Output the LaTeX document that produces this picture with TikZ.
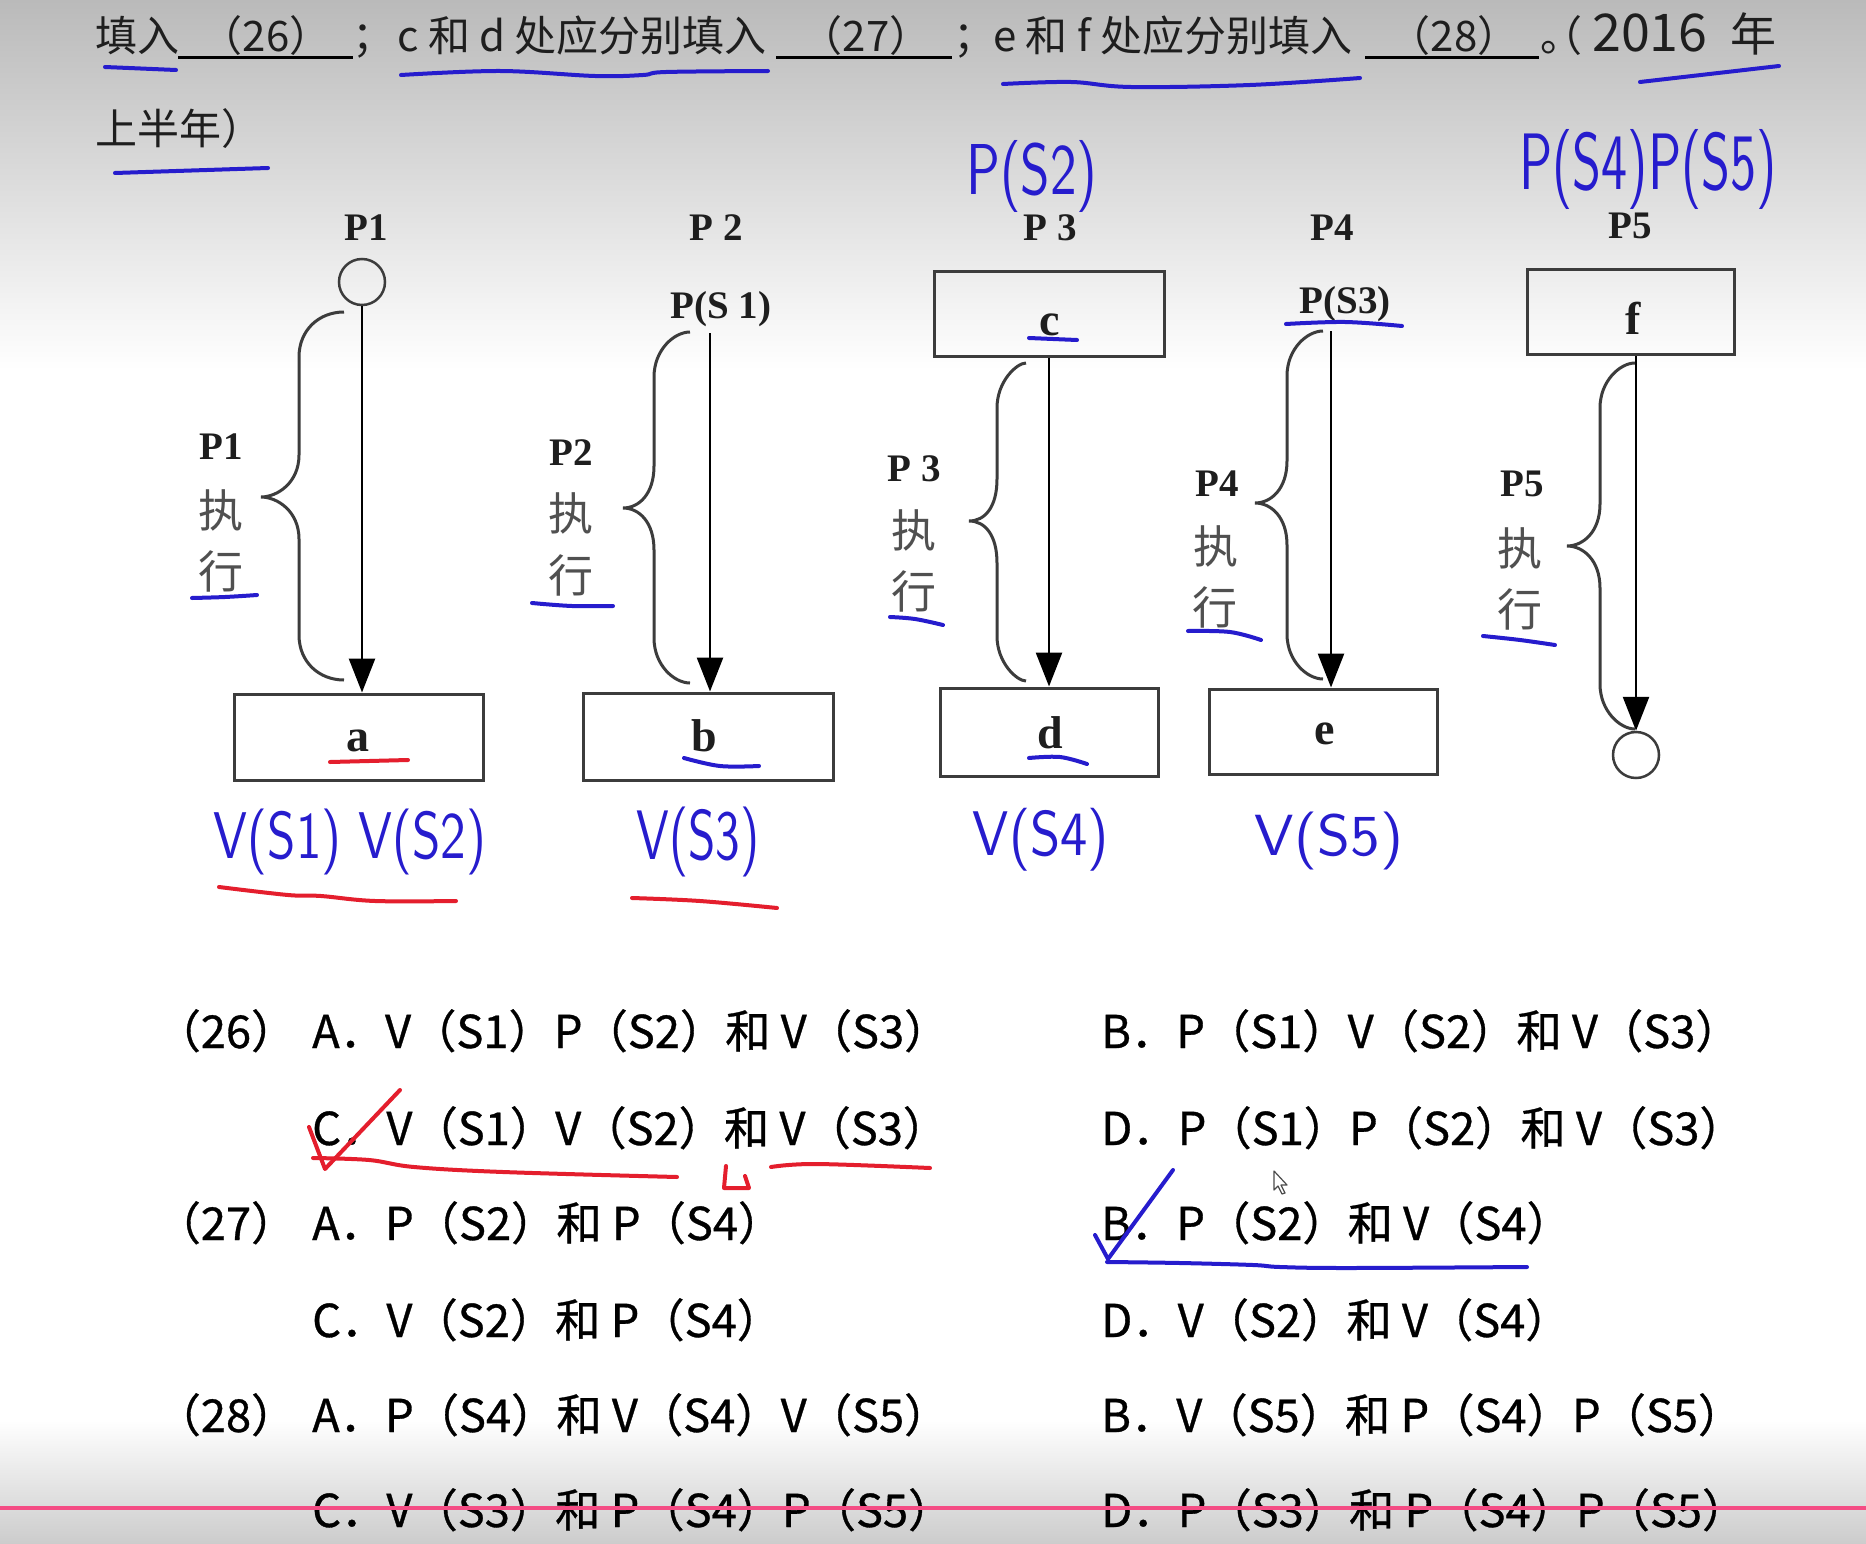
\documentclass[tikz,border=0pt]{standalone}
\usepackage{fontspec}
\usepackage{graphicx}
\setmainfont{Noto Sans CJK SC}
\newfontfamily\serifen{Liberation Serif}
\newfontfamily\optfont[FakeBold=0.7]{Noto Sans CJK SC}
\usetikzlibrary{arrows.meta}

\definecolor{hblue}{RGB}{38,28,205}
\definecolor{hred}{RGB}{228,30,45}
\definecolor{pinkline}{RGB}{244,76,132}
\definecolor{bgtop}{RGB}{186,186,186}
\definecolor{bgbot}{RGB}{204,204,204}
\definecolor{boxline}{RGB}{60,60,60}
\definecolor{lbl}{RGB}{30,30,30}
\definecolor{zhgray}{RGB}{80,80,80}

\tikzset{
  qtext/.style={font=\fontsize{42}{50}\selectfont, text=lbl, inner sep=0pt},
  opt/.style={font=\optfont\fontsize{45.3}{54}\selectfont, text=black, inner sep=0pt, anchor=base west},
  optnum/.style={font=\optfont\fontsize{45.3}{54}\selectfont, text=black, inner sep=0pt, anchor=base},
  plabel/.style={font=\serifen\bfseries\fontsize{39}{44}\selectfont, text=lbl, inner sep=0pt, anchor=base},
  sidelbl/.style={font=\serifen\bfseries\fontsize{39}{44}\selectfont, text=lbl, inner sep=0pt},
  sidezh/.style={font=\fontsize{45}{48}\selectfont, text=zhgray, inner sep=0pt},
  letter/.style={font=\serifen\bfseries\fontsize{46}{50}\selectfont, text=lbl, inner sep=0pt, anchor=base},
  boxnode/.style={draw=boxline, line width=3pt, inner sep=0pt},
  ring/.style={circle, draw=boxline, line width=2.5pt, minimum size=46pt, inner sep=0pt},
  conn/.style={line width=2.6pt, draw=black, -{Triangle[length=34pt,width=26pt]}},
  bracestyle/.style={draw=boxline, line width=3pt},
  hand/.style={line width=4pt, line cap=round, line join=round},
  hw/.style={inner sep=0pt, text=hblue},
  blank/.style={draw=black, line width=3pt}
}

% brace: xend, xvert, xtip, ytop, ytip, ybot
\newcommand\pbrace[6]{%
  \draw[bracestyle] (#1,#4) .. controls ({#2+20},#4) and (#2,{#4+18}) .. (#2,{#4+45})
    -- (#2,{#5-42}) .. controls (#2,{#5-14}) and ({#3+16},#5) .. (#3,#5)
    .. controls ({#3+16},#5) and (#2,{#5+14}) .. (#2,{#5+42})
    -- (#2,{#6-45}) .. controls (#2,{#6-18}) and ({#2+20},#6) .. (#1,#6);}

\begin{document}
\begin{tikzpicture}[x=1pt,y=-1pt]
\useasboundingbox (0,0) rectangle (1866,1544);
% background
\fill[white] (0,0) rectangle (1866,1544);
\shade[top color=bgtop, bottom color=white] (0,0) rectangle (1866,370);
\shade[top color=white, bottom color=bgbot] (0,1420) rectangle (1866,1544);

% ---------- question line ----------
\node[qtext, anchor=base west] (q1) at (95,52) {填入};
\draw[blank] (178,58) -- (353,58);
\node[qtext, anchor=base] (q26) at (266,52) {（26）};
\node[qtext, anchor=base west] (q2) at (352,52) {；};
\node[qtext, anchor=base west] (q3) at (397,52) {c 和 d 处应分别填入};
\draw[blank] (776,58) -- (952,58);
\node[qtext, anchor=base] (q27) at (866,52) {（27）};
\node[qtext, anchor=base west] (q4) at (953,52) {；};
\node[qtext, anchor=base west] (q5) at (993,52) {e 和 f 处应分别填入};
\draw[blank] (1365,58) -- (1539,58);
\node[qtext, anchor=base] (q28) at (1454,52) {（28）};
\node[qtext, anchor=base west] (q6) at (1540,52) {。};
\node[qtext, anchor=base west] (q7) at (1540,52) {（};
\node[qtext, anchor=base west, font=\fontsize{52}{54}\selectfont] (q7b) at (1592,52) {2016};
\node[qtext, anchor=base east, font=\fontsize{46}{50}\selectfont] (q7c) at (1777,52) {年};
\node[qtext, anchor=base west] (q8) at (95,145) {上半年）};

% ---------- P1 ----------
\node[plabel] (t1) at (366,240) {P1};
\node[ring] (c1) at (362,282) {};
\node[boxnode, minimum width=249pt, minimum height=86pt] (a) at (358.5,737) {};
\node[letter] (la) at (358,751) {a};
\draw[conn] (c1.south) -- (c1.south |- a.north);
\pbrace{344}{299}{261}{312}{497}{680}
\node[sidelbl] (s1a) at (221,447) {P1};
\node[sidezh] (s1b) at (221,510) {执};
\node[sidezh] (s1c) at (221,571) {行};

% ---------- P2 ----------
\node[plabel] (t2) at (716,240) {P 2};
\node[plabel] (ps1) at (721,318) {P(S 1)};
\coordinate (p2s) at (710,333);
\node[boxnode, minimum width=250pt, minimum height=87pt] (b) at (708,736.5) {};
\node[letter] (lb) at (704,751) {b};
\draw[conn] (p2s) -- (p2s |- b.north);
\pbrace{690}{654}{623}{332}{508}{683}
\node[sidelbl] (s2a) at (571,453) {P2};
\node[sidezh] (s2b) at (571,513) {执};
\node[sidezh] (s2c) at (571,575) {行};

% ---------- P3 ----------
\node[plabel] (t3) at (1050,240) {P 3};
\node[boxnode, minimum width=230pt, minimum height=85pt] (c) at (1049,313.5) {};
\node[letter] (lc) at (1050,335) {c};
\node[boxnode, minimum width=218pt, minimum height=88pt] (d) at (1049,732) {};
\node[letter] (ld) at (1050,748) {d};
\draw[conn] (c.south) -- (c.south |- d.north);
\pbrace{1026}{997}{969}{363}{521}{681}
\node[sidelbl] (s3a) at (914,469) {P 3};
\node[sidezh] (s3b) at (914,530) {执};
\node[sidezh] (s3c) at (914,591) {行};

% ---------- P4 ----------
\node[plabel] (t4) at (1332,240) {P4};
\node[plabel] (ps3) at (1345,313) {P(S3)};
\coordinate (p4s) at (1331,331);
\node[boxnode, minimum width=228pt, minimum height=85pt] (e) at (1323.5,731.5) {};
\node[letter] (le) at (1325,744) {e};
\draw[conn] (p4s) -- (p4s |- e.north);
\pbrace{1323}{1287}{1255}{331}{503}{679}
\node[sidelbl] (s4a) at (1217,484) {P4};
\node[sidezh] (s4b) at (1216,546) {执};
\node[sidezh] (s4c) at (1215,607) {行};

% ---------- P5 ----------
\node[plabel] (t5) at (1630,238) {P5};
\node[boxnode, minimum width=207pt, minimum height=85pt] (f) at (1630.5,312) {};
\node[letter] (lf) at (1633,334) {f};
\node[ring] (c5) at (1636,755) {};
\draw[conn] (f.south -| c5) -- (c5.north);
\pbrace{1635}{1600}{1567}{363}{546}{729}
\node[sidelbl] (s5a) at (1522,484) {P5};
\node[sidezh] (s5b) at (1520,548) {执};
\node[sidezh] (s5c) at (1520,609) {行};

% ---------- options ----------
\node[optnum] (n26) at (226,1048) {（26）};
\node[opt] (o26a) at (312,1048) {A．V（S1）P（S2）和 V（S3）};
\node[opt] (o26b) at (1101,1048) {B．P（S1）V（S2）和 V（S3）};
\node[opt] (o26c) at (312,1145) {C．V（S1）V（S2）和 V（S3）};
\node[opt] (o26d) at (1101,1145) {D．P（S1）P（S2）和 V（S3）};
\node[optnum] (n27) at (226,1240) {（27）};
\node[opt] (o27a) at (312,1240) {A．P（S2）和 P（S4）};
\node[opt] (o27b) at (1101,1240) {B．P（S2）和 V（S4）};
\node[opt] (o27c) at (312,1337) {C．V（S2）和 P（S4）};
\node[opt] (o27d) at (1101,1337) {D．V（S2）和 V（S4）};
\node[optnum] (n28) at (226,1432) {（28）};
\node[opt] (o28a) at (312,1432) {A．P（S4）和 V（S4）V（S5）};
\node[opt] (o28b) at (1101,1432) {B．V（S5）和 P（S4）P（S5）};
\node[opt] (o28c) at (312,1527) {C．V（S3）和 P（S4）P（S5）};
\node[opt] (o28d) at (1101,1527) {D．P（S3）和 P（S4）P（S5）};

% ---------- handwritten notes ----------
\node[hw] (h1) at (1032,176) {\resizebox*{131pt}{72pt}{\sffamily P(S2)}};
\node[hw] (h2) at (1648,169) {\resizebox*{257pt}{80pt}{\sffamily P(S4)P(S5)}};
\node[hw] (h3) at (350,842) {\resizebox*{272pt}{66pt}{\sffamily V(S1) V(S2)}};
\node[hw] (h4) at (698,842) {\resizebox*{123pt}{70pt}{\sffamily V(S3)}};
\node[hw] (h5) at (1041,840) {\resizebox*{136pt}{63pt}{\sffamily V(S4)}};
\node[hw] (h6) at (1329,841) {\resizebox*{148pt}{58pt}{\sffamily V(S5)}};

% blue underlines
\draw[hand, hblue] (105,67) -- (176,70);
\draw[hand, hblue] plot[smooth, tension=0.6] coordinates {(401,75) (500,71) (595,76) (643,75) (666,72) (768,71)};
\draw[hand, hblue] plot[smooth, tension=0.6] coordinates {(1003,84) (1071,82) (1131,87) (1250,85) (1360,78)};
\draw[hand, hblue] (1640,82) -- (1779,66);
\draw[hand, hblue] (115,173) -- (268,168);
\draw[hand, hblue] plot[smooth, tension=0.6] coordinates {(192,598) (225,597) (257,595)};
\draw[hand, hblue] plot[smooth, tension=0.6] coordinates {(532,603) (572,606) (613,606)};
\draw[hand, hblue] plot[smooth, tension=0.6] coordinates {(890,617) (915,619) (943,625)};
\draw[hand, hblue] plot[smooth, tension=0.6] coordinates {(1188,631) (1230,632) (1261,640)};
\draw[hand, hblue] plot[smooth, tension=0.6] coordinates {(1483,636) (1520,640) (1555,645)};
\draw[hand, hblue] plot[smooth, tension=0.6] coordinates {(684,758) (720,766) (759,766)};
\draw[hand, hblue] (1029,338) -- (1077,340);
\draw[hand, hblue] plot[smooth, tension=0.6] coordinates {(1029,758) (1060,757) (1087,764)};
\draw[hand, hblue] plot[smooth, tension=0.6] coordinates {(1286,324) (1345,322) (1402,326)};
% red underlines
\draw[hand, hred] (330,762) -- (408,760);
\draw[hand, hred] plot[smooth, tension=0.6] coordinates {(219,887) (288,895) (321,896) (375,901) (456,901)};
\draw[hand, hred] plot[smooth, tension=0.6] coordinates {(632,898) (700,901) (777,908)};
% red tick and marks on (26) C
\draw[hand, hred] (309,1127) -- (325,1169) -- (400,1090);
\draw[hand, hred] plot[smooth, tension=0.6] coordinates {(313,1158) (369,1160) (414,1167) (503,1172) (677,1177)};
\draw[hand, hred] (726,1166) -- (724,1188) -- (749,1188) -- (745,1176);
\draw[hand, hred] plot[smooth, tension=0.6] coordinates {(771,1167) (816,1164) (930,1168)};
% blue tick on (27) B
\draw[hand, hblue] (1095,1235) -- (1108,1259) -- (1173,1170);
\draw[hand, hblue] plot[smooth, tension=0.6] coordinates {(1107,1262) (1180,1263) (1253,1265) (1280,1267) (1347,1268) (1527,1267)};

% mouse cursor
\draw[black!70, fill=white, line width=1.2pt, line join=round] (1274,1171) -- (1274,1190) -- (1278,1186) -- (1282,1194) -- (1285,1193) -- (1281,1185) -- (1287,1185) -- cycle;

% pink line
\draw[pinkline, line width=4pt] (0,1508) -- (1866,1508);
\end{tikzpicture}
\end{document}
